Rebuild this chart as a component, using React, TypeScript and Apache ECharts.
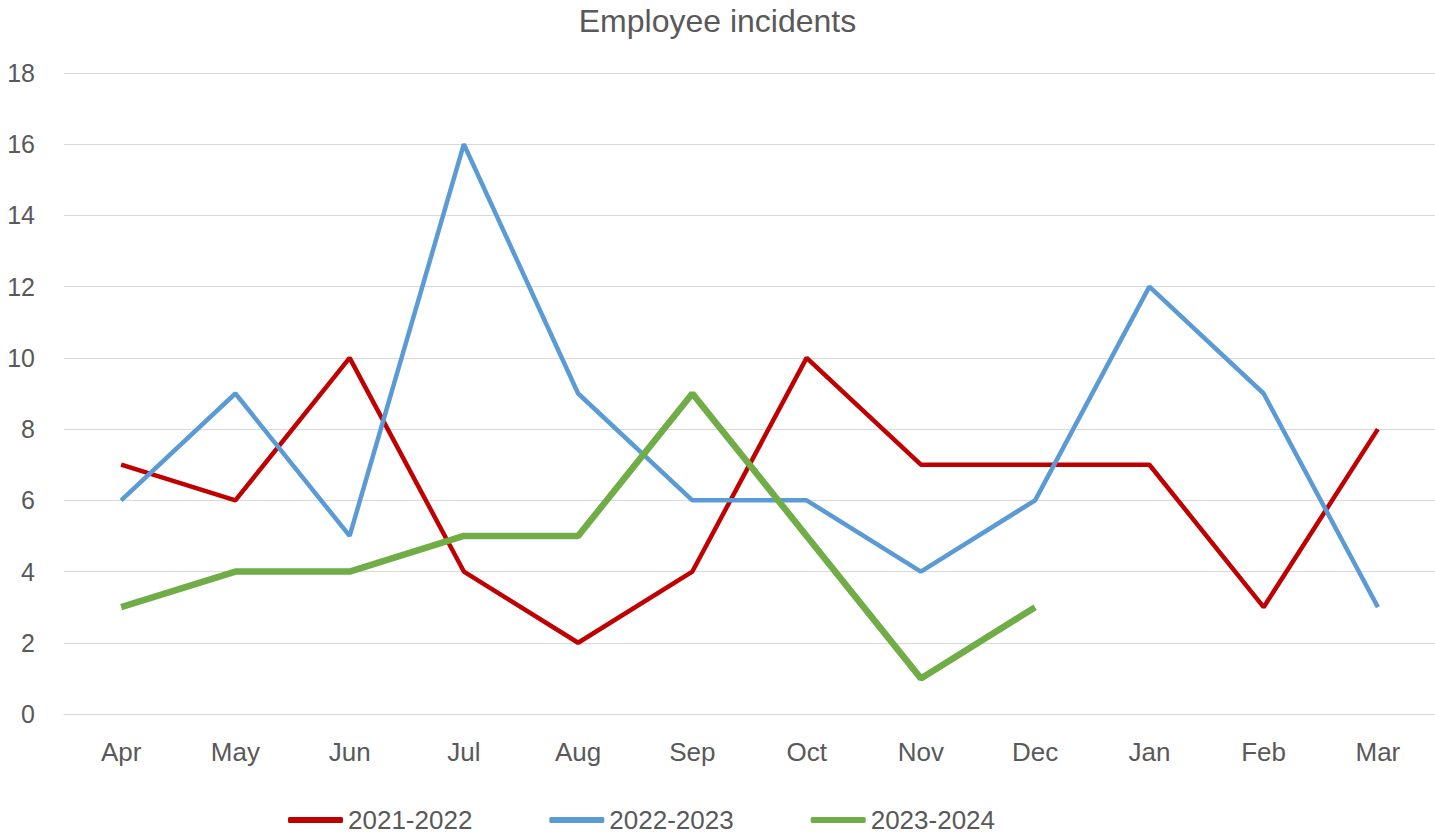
import React, { useEffect, useRef } from "react";
import * as echarts from "echarts";

const months = ["Apr", "May", "Jun", "Jul", "Aug", "Sep", "Oct", "Nov", "Dec", "Jan", "Feb", "Mar"];
const s2122 = [7, 6, 10, 4, 2, 4, 10, 7, 7, 7, 3, 8];
const s2223 = [6, 9, 5, 16, 9, 6, 6, 4, 6, 12, 9, 3];
const s2324 = [3, 4, 4, 5, 5, 9, 5, 1, 3, null, null, null];

export default function App() {
  const ref = useRef<HTMLDivElement>(null);
  useEffect(() => {
    document.body.style.margin = "0";
    const chart = echarts.init(ref.current!, null, { renderer: "svg" });
    const font = "Liberation Sans";
    chart.setOption({
      animation: false,
      backgroundColor: "#ffffff",
      title: {
        text: "Employee incidents",
        left: "center",
        top: 0,
        textStyle: { fontFamily: font, fontSize: 32, fontWeight: "normal", color: "#595959" },
      },
      grid: { left: 64, right: -1, top: 73, bottom: 121, containLabel: false },
      legend: {
        top: 807,
        left: 288,
        padding: 0,
        itemWidth: 55,
        itemHeight: 6,
        itemGap: 77,
        itemTextGap: 5,
        icon: "roundRect",
        textStyle: { fontFamily: font, fontSize: 26, lineHeight: 26, color: "#595959" },
        data: ["2021-2022", "2022-2023", "2023-2024"],
      },
      xAxis: {
        type: "category",
        data: months,
        boundaryGap: true,
        axisLine: { lineStyle: { color: "#d9d9d9", width: 1 } },
        axisTick: { show: false },
        axisLabel: { fontFamily: font, fontSize: 26, color: "#595959", margin: 25 },
      },
      yAxis: {
        type: "value",
        min: 0,
        max: 18,
        interval: 2,
        axisLine: { show: false },
        axisTick: { show: false },
        splitLine: { lineStyle: { color: "#d9d9d9", width: 1 } },
        axisLabel: { fontFamily: font, fontSize: 25, color: "#595959", margin: 29 },
      },
      series: [
        {
          name: "2021-2022",
          type: "line",
          data: s2122,
          showSymbol: false,
          symbol: "none",
          lineStyle: { color: "#C00000", width: 4.5 },
          itemStyle: { color: "#C00000" },
        },
        {
          name: "2022-2023",
          type: "line",
          data: s2223,
          showSymbol: false,
          symbol: "none",
          lineStyle: { color: "#5B9BD5", width: 4.5 },
          itemStyle: { color: "#5B9BD5" },
        },
        {
          name: "2023-2024",
          type: "line",
          data: s2324,
          showSymbol: false,
          symbol: "none",
          lineStyle: { color: "#70AD47", width: 6.5 },
          itemStyle: { color: "#70AD47" },
        },
      ],
    });
    return () => chart.dispose();
  }, []);
  return <div ref={ref} style={{ width: 1435, height: 835 }} />;
}
